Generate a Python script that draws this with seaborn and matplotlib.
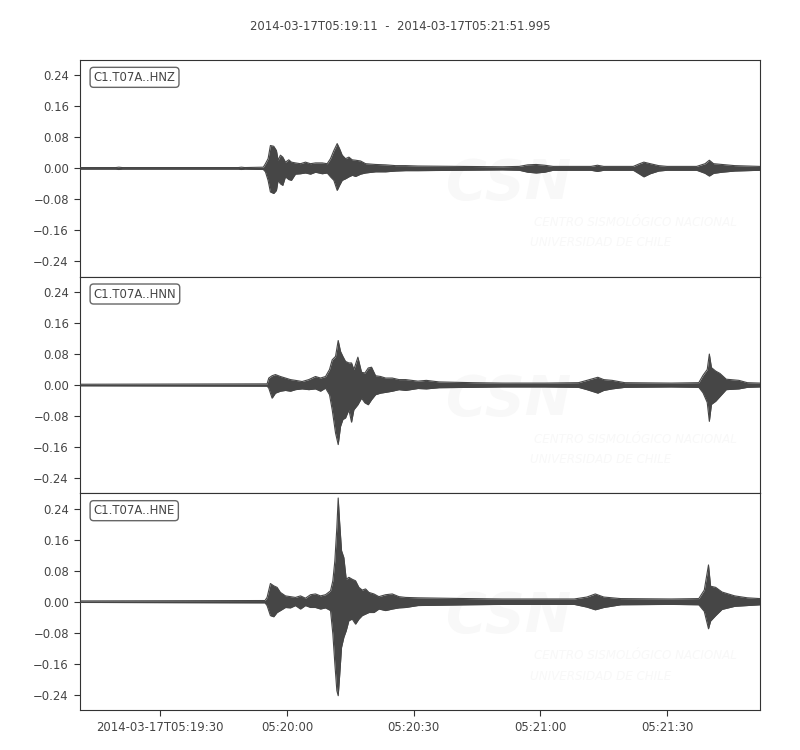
import matplotlib
matplotlib.use("Agg")
import matplotlib.pyplot as plt
import numpy as np
import pandas as pd
import seaborn as sns

# --- DATA (envelopes, t = seconds after 05:19:11) ---
TITLE = "2014-03-17T05:19:11  -  2014-03-17T05:21:51.995"
TRACE_LABELS = ["C1.T07A..HNZ", "C1.T07A..HNN", "C1.T07A..HNE"]

hnz_t = [0, 8.5, 9.2, 10, 37.5, 38.2, 39, 43.4, 43.9, 44.53, 45.08, 45.87, 46.51, 46.9,
         47.45, 48.01, 48.64, 49.43, 50.06, 51.01, 52.2, 53.38, 54.57, 55.75, 57.34,
         58.52, 59.31, 60.1, 60.89, 61.45, 62.08, 62.87, 63.66, 64.45, 65.24, 66.43,
         67.61, 69.98, 72.35, 74.73, 77.1, 80, 90, 100, 104, 106, 108, 110, 112, 121,
         122.5, 124, 131, 132.5, 133.5, 135, 137, 139, 146, 148, 149, 150, 152, 155, 161]
hnz_hi = [0.002, 0.002, 0.003, 0.002, 0.002, 0.003, 0.002, 0.003, 0.012, 0.025, 0.059,
          0.057, 0.046, 0.021, 0.034, 0.029, 0.016, 0.022, 0.016, 0.014, 0.012, 0.016,
          0.012, 0.014, 0.014, 0.012, 0.025, 0.046, 0.064, 0.051, 0.034, 0.025, 0.029,
          0.022, 0.021, 0.019, 0.012, 0.010, 0.009, 0.007, 0.007, 0.006, 0.005, 0.004,
          0.005, 0.009, 0.010, 0.008, 0.005, 0.005, 0.008, 0.005, 0.005, 0.012, 0.016,
          0.012, 0.007, 0.005, 0.005, 0.012, 0.021, 0.012, 0.010, 0.007, 0.005]
hnz_lo = [-0.002, -0.002, -0.003, -0.002, -0.002, -0.003, -0.002, -0.003, -0.009, -0.031,
          -0.061, -0.065, -0.057, -0.031, -0.040, -0.044, -0.022, -0.029, -0.031, -0.015,
          -0.014, -0.012, -0.015, -0.010, -0.014, -0.012, -0.022, -0.031, -0.057, -0.044,
          -0.031, -0.027, -0.022, -0.018, -0.021, -0.015, -0.012, -0.009, -0.009, -0.007,
          -0.006, -0.006, -0.005, -0.004, -0.005, -0.010, -0.012, -0.010, -0.005, -0.005,
          -0.008, -0.005, -0.005, -0.015, -0.022, -0.014, -0.007, -0.005, -0.005, -0.013,
          -0.020, -0.013, -0.010, -0.007, -0.005]

hnn_t = [0, 44.3, 44.69, 45.48, 46.27, 47.45, 48.64, 49.83, 51.01, 52.59, 54.17, 55.75,
         56.94, 58.13, 59.07, 59.71, 60.5, 61.13, 61.68, 62.24, 62.87, 63.66, 64.29,
         64.84, 65.79, 66.66, 67.45, 68.24, 69.03, 69.98, 71.17, 72.35, 73.94, 75.52,
         77.1, 80, 82, 85, 93, 100, 110, 118, 120, 122.6, 124, 126, 129, 140, 146.5,
         147.5, 148.5, 149, 149.5, 150.5, 151.5, 153, 156, 158, 161]
hnn_hi = [0.002, 0.003, 0.018, 0.024, 0.027, 0.022, 0.018, 0.014, 0.012, 0.009, 0.014,
          0.022, 0.018, 0.022, 0.040, 0.065, 0.074, 0.115, 0.087, 0.074, 0.061, 0.057,
          0.057, 0.040, 0.072, 0.033, 0.031, 0.044, 0.046, 0.024, 0.022, 0.018, 0.018,
          0.014, 0.014, 0.010, 0.012, 0.008, 0.006, 0.005, 0.005, 0.006, 0.012, 0.020,
          0.014, 0.012, 0.006, 0.005, 0.006, 0.025, 0.040, 0.080, 0.045, 0.036, 0.030,
          0.015, 0.012, 0.006, 0.005]
hnn_lo = [-0.002, -0.003, -0.008, -0.034, -0.021, -0.016, -0.014, -0.016, -0.012,
          -0.010, -0.012, -0.010, -0.016, -0.008, -0.025, -0.064, -0.124, -0.154,
          -0.107, -0.089, -0.085, -0.064, -0.096, -0.064, -0.051, -0.034, -0.046,
          -0.051, -0.038, -0.025, -0.021, -0.019, -0.016, -0.012, -0.014, -0.009,
          -0.010, -0.007, -0.006, -0.005, -0.005, -0.006, -0.012, -0.021, -0.014,
          -0.010, -0.006, -0.005, -0.006, -0.020, -0.045, -0.094, -0.050, -0.042,
          -0.030, -0.012, -0.010, -0.006, -0.005]

hne_t = [0, 43.8, 44.29, 45.08, 45.87, 46.66, 47.45, 48.64, 49.83, 51.01, 52.2, 53.38,
         54.57, 55.75, 56.94, 58.13, 59.31, 59.86, 60.34, 60.81, 61.13, 61.45, 61.92,
         62.47, 63.03, 63.66, 64.45, 65.24, 66.03, 66.82, 67.61, 68.4, 69.59, 70.77,
         72.35, 73.94, 75.52, 77.1, 80, 92, 100, 117, 120, 122, 124, 128, 140, 146.5,
         147.8, 148.8, 149.3, 150.5, 152, 155, 158, 161]
hne_hi = [0.002, 0.003, 0.011, 0.047, 0.041, 0.037, 0.024, 0.015, 0.013, 0.011, 0.015,
          0.009, 0.018, 0.020, 0.015, 0.018, 0.028, 0.054, 0.106, 0.192, 0.268, 0.209,
          0.132, 0.114, 0.058, 0.063, 0.058, 0.054, 0.037, 0.030, 0.033, 0.024, 0.020,
          0.013, 0.018, 0.020, 0.013, 0.011, 0.010, 0.008, 0.007, 0.007, 0.012, 0.020,
          0.012, 0.008, 0.007, 0.008, 0.030, 0.095, 0.040, 0.037, 0.025, 0.015, 0.010,
          0.008]
hne_lo = [-0.002, -0.003, -0.010, -0.036, -0.039, -0.028, -0.023, -0.015, -0.016,
          -0.010, -0.019, -0.010, -0.015, -0.015, -0.019, -0.016, -0.023, -0.083,
          -0.161, -0.230, -0.243, -0.195, -0.118, -0.092, -0.075, -0.049, -0.045,
          -0.058, -0.045, -0.036, -0.032, -0.028, -0.028, -0.019, -0.023, -0.019,
          -0.016, -0.015, -0.010, -0.008, -0.007, -0.007, -0.014, -0.021, -0.015,
          -0.008, -0.007, -0.008, -0.025, -0.070, -0.050, -0.036, -0.020, -0.012,
          -0.010, -0.008]

TRACE_END = 160.995
X_TICKS = [19, 49, 79, 109, 139]
X_TICK_LABELS = ["2014-03-17T05:19:30", "05:20:00", "05:20:30", "05:21:00", "05:21:30"]
Y_TICKS = [-0.24, -0.16, -0.08, 0.0, 0.08, 0.16, 0.24]

traces = [(hnz_t, hnz_hi, hnz_lo), (hnn_t, hnn_hi, hnn_lo), (hne_t, hne_hi, hne_lo)]

# --- STYLE ---
sns.set_theme(style="ticks", rc={
    "axes.edgecolor": "#333333",
    "axes.linewidth": 0.8,
    "xtick.color": "#333333",
    "ytick.color": "#333333",
    "xtick.major.size": 4.5,
    "ytick.major.size": 4.5,
    "xtick.major.width": 0.8,
    "ytick.major.width": 0.8,
    "xtick.labelsize": 8.4,
    "ytick.labelsize": 8.4,
    "text.color": "#444444",
    "xtick.labelcolor": "#444444",
    "ytick.labelcolor": "#444444",
})
plt.rcParams["font.family"] = ["DejaVu Sans"]

WAVE_COLOR = "#464646"
MARK_COLOR = "#f8f8f8"

fig, axes = plt.subplots(3, 1, figsize=(8, 7.5), dpi=100, sharex=True)
fig.subplots_adjust(left=0.1, right=0.95, top=0.92, bottom=0.0533, hspace=0)

for ax, (t, hi, lo), label in zip(axes, traces, TRACE_LABELS):
    # faint CSN watermark behind the trace
    ax.text(0.63, 0.43, "CSN", transform=ax.transAxes, ha="center", va="center",
            fontsize=40, fontweight="bold", style="italic",
            color=MARK_COLOR, zorder=0, clip_on=True)
    ax.text(0.668, 0.25, "CENTRO SISMOLÓGICO NACIONAL", transform=ax.transAxes,
            ha="left", va="center", fontsize=8.6, style="italic",
            color=MARK_COLOR, zorder=0, clip_on=True)
    ax.text(0.662, 0.157, "UNIVERSIDAD DE CHILE", transform=ax.transAxes,
            ha="left", va="center", fontsize=8.6, style="italic",
            color=MARK_COLOR, zorder=0, clip_on=True)

    df = pd.DataFrame({"t": t, "hi": hi, "lo": lo})
    ax.fill_between(df["t"], df["lo"], df["hi"], color=WAVE_COLOR, lw=0, zorder=2)
    sns.lineplot(data=df, x="t", y="hi", ax=ax, color=WAVE_COLOR, lw=0.8, zorder=3)
    sns.lineplot(data=df, x="t", y="lo", ax=ax, color=WAVE_COLOR, lw=0.8, zorder=3)

    ax.set_ylim(-0.28, 0.28)
    ax.set_yticks(Y_TICKS)
    ax.set_yticklabels([f"{v:.2f}".replace("-", "\u2212") for v in Y_TICKS])
    ax.set_xlabel("")
    ax.set_ylabel("")
    ax.text(0.02, 0.95, label, transform=ax.transAxes, ha="left", va="top",
            fontsize=8.4, color="#444444", zorder=5,
            bbox=dict(boxstyle="round,pad=0.3", fc="white", ec="#666666", lw=1))

axes[-1].set_xlim(0, TRACE_END)
axes[-1].set_xticks(X_TICKS)
axes[-1].set_xticklabels(X_TICK_LABELS)
for ax in axes[:-1]:
    ax.tick_params(axis="x", bottom=False, labelbottom=False)

fig.suptitle(TITLE, fontsize=8.4, y=0.973, color="#444444")

fig.savefig("out.png", dpi=100)
